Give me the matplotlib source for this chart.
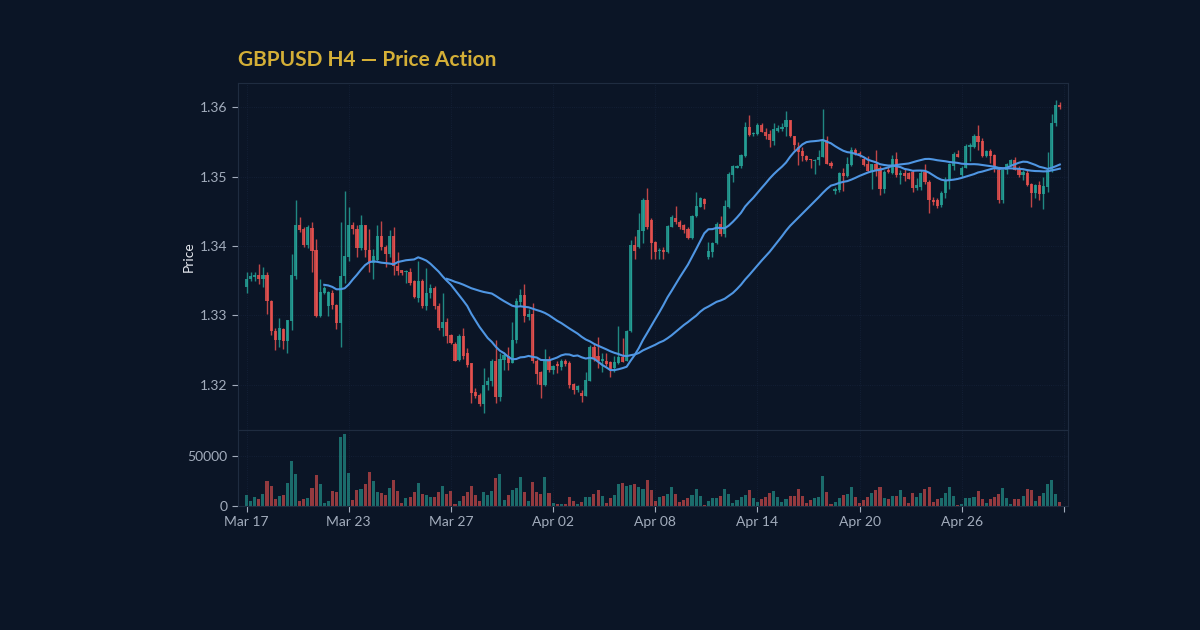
import numpy as np
import pandas as pd
import matplotlib
matplotlib.use("Agg")
import matplotlib.pyplot as plt
from matplotlib.ticker import FormatStrFormatter

# H4 bars
opens = [1.3341, 1.3353, 1.3355, 1.3358, 1.3353, 1.3359, 1.3321, 1.3278, 1.3264, 1.3281,
         1.3263, 1.3292, 1.3357, 1.3430, 1.3425, 1.3401, 1.3426, 1.3394, 1.3299, 1.3333,
         1.3313, 1.3333, 1.3315, 1.3289, 1.3357, 1.3384, 1.3430, 1.3425, 1.3397, 1.3430,
         1.3395, 1.3375, 1.3380, 1.3415, 1.3399, 1.3388, 1.3415, 1.3371, 1.3365, 1.3362,
         1.3363, 1.3350, 1.3325, 1.3350, 1.3313, 1.3332, 1.3339, 1.3314, 1.3282, 1.3290,
         1.3272, 1.3259, 1.3236, 1.3270, 1.3246, 1.3231, 1.3190, 1.3186, 1.3173, 1.3200,
         1.3205, 1.3235, 1.3183, 1.3236, 1.3241, 1.3232, 1.3264, 1.3320, 1.3330, 1.3298,
         1.3302, 1.3235, 1.3218, 1.3200, 1.3237, 1.3222, 1.3230, 1.3226, 1.3235, 1.3232,
         1.3201, 1.3193, 1.3189, 1.3184, 1.3206, 1.3254, 1.3241, 1.3234, 1.3235, 1.3233,
         1.3224, 1.3232, 1.3240, 1.3235, 1.3277, 1.3401, 1.3399, 1.3422, 1.3466, 1.3437,
         1.3406, 1.3393, 1.3395, 1.3392, 1.3428, 1.3441, 1.3435, 1.3430, 1.3425, 1.3411,
         1.3443, 1.3457, 1.3468, 1.3384, 1.3392, 1.3404, 1.3432, 1.3417, 1.3457, 1.3502,
         1.3513, 1.3515, 1.3530, 1.3572, 1.3561, 1.3561, 1.3574, 1.3565, 1.3561, 1.3552,
         1.3566, 1.3568, 1.3571, 1.3581, 1.3558, 1.3543, 1.3537, 1.3530, 1.3525, 1.3522,
         1.3524, 1.3529, 1.3553, 1.3520, 1.3479, 1.3481, 1.3505, 1.3501, 1.3517, 1.3539,
         1.3534, 1.3526, 1.3519, 1.3508, 1.3518, 1.3513, 1.3482, 1.3510, 1.3506, 1.3525,
         1.3502, 1.3506, 1.3505, 1.3507, 1.3483, 1.3485, 1.3507, 1.3493, 1.3467, 1.3466,
         1.3459, 1.3476, 1.3494, 1.3515, 1.3532, 1.3502, 1.3513, 1.3543, 1.3543, 1.3558,
         1.3552, 1.3530, 1.3537, 1.3531, 1.3510, 1.3466, 1.3510, 1.3517, 1.3524, 1.3513,
         1.3502, 1.3506, 1.3489, 1.3476, 1.3488, 1.3475, 1.3485, 1.3508, 1.3577, 1.3603]
highs = [1.3363, 1.3362, 1.3363, 1.3374, 1.3370, 1.3362, 1.3322, 1.3282, 1.3296, 1.3282,
         1.3294, 1.3389, 1.3467, 1.3442, 1.3427, 1.3430, 1.3435, 1.3410, 1.3352, 1.3342,
         1.3336, 1.3337, 1.3317, 1.3435, 1.3479, 1.3457, 1.3435, 1.3430, 1.3445, 1.3431,
         1.3425, 1.3396, 1.3430, 1.3436, 1.3401, 1.3423, 1.3428, 1.3392, 1.3366, 1.3366,
         1.3368, 1.3351, 1.3378, 1.3352, 1.3368, 1.3346, 1.3342, 1.3318, 1.3332, 1.3296,
         1.3274, 1.3262, 1.3273, 1.3282, 1.3253, 1.3232, 1.3195, 1.3188, 1.3224, 1.3212,
         1.3237, 1.3265, 1.3246, 1.3248, 1.3255, 1.3291, 1.3325, 1.3338, 1.3346, 1.3309,
         1.3318, 1.3237, 1.3220, 1.3251, 1.3241, 1.3229, 1.3234, 1.3237, 1.3237, 1.3234,
         1.3203, 1.3200, 1.3192, 1.3218, 1.3258, 1.3259, 1.3269, 1.3246, 1.3246, 1.3234,
         1.3242, 1.3285, 1.3267, 1.3279, 1.3409, 1.3414, 1.3447, 1.3469, 1.3483, 1.3440,
         1.3407, 1.3397, 1.3399, 1.3431, 1.3445, 1.3458, 1.3437, 1.3432, 1.3427, 1.3445,
         1.3478, 1.3471, 1.3470, 1.3406, 1.3406, 1.3434, 1.3443, 1.3466, 1.3507, 1.3517,
         1.3517, 1.3533, 1.3579, 1.3589, 1.3564, 1.3577, 1.3577, 1.3570, 1.3567, 1.3577,
         1.3575, 1.3577, 1.3594, 1.3582, 1.3559, 1.3550, 1.3543, 1.3531, 1.3526, 1.3526,
         1.3539, 1.3598, 1.3558, 1.3523, 1.3485, 1.3507, 1.3512, 1.3528, 1.3543, 1.3542,
         1.3537, 1.3528, 1.3530, 1.3519, 1.3539, 1.3515, 1.3509, 1.3515, 1.3531, 1.3536,
         1.3510, 1.3512, 1.3507, 1.3509, 1.3498, 1.3510, 1.3518, 1.3495, 1.3471, 1.3470,
         1.3480, 1.3499, 1.3520, 1.3536, 1.3538, 1.3516, 1.3547, 1.3548, 1.3562, 1.3575,
         1.3556, 1.3538, 1.3540, 1.3532, 1.3513, 1.3511, 1.3520, 1.3525, 1.3528, 1.3515,
         1.3510, 1.3509, 1.3491, 1.3490, 1.3494, 1.3499, 1.3536, 1.3591, 1.3611, 1.3608]
lows = [1.3332, 1.3349, 1.3349, 1.3346, 1.3341, 1.3302, 1.3272, 1.3250, 1.3255, 1.3251,
        1.3246, 1.3279, 1.3353, 1.3421, 1.3399, 1.3397, 1.3362, 1.3298, 1.3298, 1.3331,
        1.3299, 1.3309, 1.3280, 1.3255, 1.3347, 1.3378, 1.3418, 1.3385, 1.3394, 1.3385,
        1.3363, 1.3352, 1.3378, 1.3394, 1.3370, 1.3385, 1.3358, 1.3358, 1.3358, 1.3347,
        1.3344, 1.3325, 1.3320, 1.3311, 1.3308, 1.3325, 1.3310, 1.3279, 1.3270, 1.3260,
        1.3259, 1.3234, 1.3234, 1.3238, 1.3226, 1.3174, 1.3181, 1.3170, 1.3159, 1.3193,
        1.3198, 1.3174, 1.3177, 1.3222, 1.3221, 1.3231, 1.3261, 1.3313, 1.3291, 1.3293,
        1.3232, 1.3201, 1.3181, 1.3199, 1.3219, 1.3216, 1.3217, 1.3222, 1.3227, 1.3195,
        1.3187, 1.3190, 1.3176, 1.3184, 1.3205, 1.3234, 1.3224, 1.3218, 1.3227, 1.3211,
        1.3219, 1.3230, 1.3233, 1.3234, 1.3276, 1.3382, 1.3397, 1.3404, 1.3424, 1.3381,
        1.3381, 1.3382, 1.3381, 1.3390, 1.3427, 1.3432, 1.3424, 1.3419, 1.3410, 1.3410,
        1.3442, 1.3456, 1.3454, 1.3381, 1.3385, 1.3403, 1.3414, 1.3413, 1.3455, 1.3493,
        1.3512, 1.3513, 1.3529, 1.3558, 1.3558, 1.3560, 1.3564, 1.3555, 1.3543, 1.3545,
        1.3564, 1.3566, 1.3558, 1.3557, 1.3539, 1.3517, 1.3523, 1.3522, 1.3513, 1.3504,
        1.3517, 1.3528, 1.3518, 1.3512, 1.3475, 1.3478, 1.3479, 1.3499, 1.3516, 1.3531,
        1.3529, 1.3516, 1.3507, 1.3482, 1.3501, 1.3473, 1.3476, 1.3505, 1.3504, 1.3499,
        1.3490, 1.3494, 1.3496, 1.3478, 1.3481, 1.3481, 1.3490, 1.3447, 1.3459, 1.3455,
        1.3456, 1.3470, 1.3482, 1.3509, 1.3528, 1.3499, 1.3512, 1.3522, 1.3541, 1.3539,
        1.3529, 1.3529, 1.3520, 1.3507, 1.3462, 1.3462, 1.3504, 1.3516, 1.3509, 1.3499,
        1.3495, 1.3486, 1.3456, 1.3470, 1.3466, 1.3453, 1.3478, 1.3507, 1.3573, 1.3598]
closes = [1.3353, 1.3357, 1.3358, 1.3353, 1.3359, 1.3321, 1.3277, 1.3264, 1.3282, 1.3263,
          1.3293, 1.3358, 1.3430, 1.3423, 1.3401, 1.3427, 1.3393, 1.3299, 1.3334, 1.3339,
          1.3334, 1.3315, 1.3289, 1.3357, 1.3385, 1.3430, 1.3424, 1.3397, 1.3430, 1.3394,
          1.3375, 1.3385, 1.3415, 1.3399, 1.3388, 1.3415, 1.3371, 1.3364, 1.3361, 1.3364,
          1.3347, 1.3326, 1.3350, 1.3313, 1.3333, 1.3339, 1.3313, 1.3282, 1.3290, 1.3270,
          1.3261, 1.3235, 1.3270, 1.3241, 1.3229, 1.3189, 1.3184, 1.3173, 1.3200, 1.3206,
          1.3235, 1.3183, 1.3237, 1.3243, 1.3232, 1.3265, 1.3321, 1.3330, 1.3299, 1.3302,
          1.3234, 1.3216, 1.3200, 1.3237, 1.3222, 1.3227, 1.3227, 1.3235, 1.3230, 1.3200,
          1.3193, 1.3198, 1.3184, 1.3207, 1.3255, 1.3238, 1.3235, 1.3237, 1.3230, 1.3222,
          1.3233, 1.3240, 1.3233, 1.3277, 1.3401, 1.3393, 1.3423, 1.3466, 1.3427, 1.3405,
          1.3392, 1.3395, 1.3392, 1.3429, 1.3442, 1.3434, 1.3428, 1.3423, 1.3411, 1.3443,
          1.3458, 1.3469, 1.3461, 1.3393, 1.3405, 1.3432, 1.3417, 1.3458, 1.3504, 1.3515,
          1.3516, 1.3531, 1.3572, 1.3560, 1.3563, 1.3575, 1.3565, 1.3558, 1.3553, 1.3568,
          1.3570, 1.3572, 1.3581, 1.3558, 1.3545, 1.3536, 1.3530, 1.3524, 1.3524, 1.3524,
          1.3529, 1.3553, 1.3519, 1.3515, 1.3482, 1.3505, 1.3501, 1.3518, 1.3538, 1.3533,
          1.3532, 1.3517, 1.3508, 1.3518, 1.3509, 1.3482, 1.3507, 1.3507, 1.3525, 1.3502,
          1.3505, 1.3501, 1.3497, 1.3483, 1.3488, 1.3506, 1.3493, 1.3466, 1.3464, 1.3458,
          1.3477, 1.3495, 1.3518, 1.3532, 1.3529, 1.3513, 1.3544, 1.3545, 1.3558, 1.3550,
          1.3530, 1.3537, 1.3530, 1.3515, 1.3466, 1.3510, 1.3518, 1.3524, 1.3510, 1.3502,
          1.3507, 1.3488, 1.3476, 1.3488, 1.3475, 1.3486, 1.3509, 1.3577, 1.3603, 1.3600]
volumes = [11000, 5000, 9000, 7000, 12000, 25000, 20000, 7000, 10000, 11000,
           23000, 45000, 32000, 5000, 7000, 8000, 18000, 31000, 22000, 3000,
           5000, 15000, 14000, 69000, 72000, 33000, 6000, 16000, 17000, 22000,
           34000, 25000, 14000, 13000, 11000, 18000, 26000, 15000, 3000, 8000,
           9000, 14000, 23000, 12000, 11000, 9000, 9000, 14000, 20000, 12000,
           15000, 2000, 5000, 10000, 14000, 20000, 11000, 5000, 14000, 11000,
           15000, 28000, 32000, 6000, 11000, 16000, 18000, 29000, 14000, 5000,
           24000, 14000, 12000, 29000, 13000, 3000, 2000, 2000, 2000, 9000,
           5000, 2000, 4000, 9000, 9000, 12000, 16000, 10000, 3000, 8000,
           11000, 22000, 23000, 20000, 21000, 22000, 19000, 17000, 26000, 16000,
           5000, 9000, 10000, 12000, 19000, 12000, 4000, 6000, 8000, 11000,
           17000, 10000, 1000, 5000, 8000, 8000, 10000, 17000, 12000, 3000,
           6000, 9000, 11000, 16000, 8000, 4000, 7000, 9000, 13000, 15000,
           9000, 4000, 7000, 10000, 10000, 17000, 10000, 3000, 6000, 8000,
           9000, 30000, 14000, 2000, 4000, 8000, 11000, 12000, 19000, 9000,
           3000, 6000, 9000, 13000, 16000, 19000, 8000, 7000, 10000, 10000,
           16000, 9000, 3000, 13000, 9000, 13000, 17000, 19000, 4000, 7000,
           8000, 13000, 19000, 10000, 1000, 2000, 8000, 8000, 9000, 15000,
           7000, 3000, 7000, 9000, 12000, 18000, 8000, 2000, 7000, 7000,
           10000, 17000, 16000, 5000, 10000, 13000, 22000, 26000, 12000, 4000]
date_labels = ["Mar 17", "Mar 23", "Mar 27", "Apr 02", "Apr 08",
               "Apr 14", "Apr 20", "Apr 26", ""]

bg = "#0b1526"
up_col = "#26a69a"
down_col = "#ef5350"
ma_col = "#4f96e3"
grid_col = "#16233a"
spine_col = "#1f2c40"
text_col = "#a3adbd"

df = pd.DataFrame({"open": opens, "high": highs, "low": lows,
                   "close": closes, "volume": volumes})
x = np.arange(len(df))
up = df["close"] >= df["open"]
colors = np.where(up, up_col, down_col)
ma_fast = df["close"].rolling(20).mean()
ma_slow = df["close"].rolling(50).mean()

plt.rcParams["font.family"] = ["Lato", "DejaVu Sans"]
fig = plt.figure(figsize=(12, 6.3), dpi=100, facecolor=bg)
ax = fig.add_axes([238 / 1200, 200 / 630, 830 / 1200, 347 / 630], facecolor=bg)
axv = fig.add_axes([238 / 1200, 124 / 630, 830 / 1200, 76 / 630], facecolor=bg, sharex=ax)

# candles: wicks then bodies
ax.vlines(x, df["low"], df["high"], colors=colors, linewidth=1, alpha=0.8, zorder=2)
body_low = np.minimum(df["open"], df["close"])
body_h = np.maximum(np.abs(df["close"] - df["open"]), 0.00005)
ax.bar(x, body_h, bottom=body_low, width=0.78, color=colors, alpha=0.8,
       linewidth=0, zorder=3)
ax.plot(x, ma_fast, color=ma_col, linewidth=1.5, zorder=4)
ax.plot(x, ma_slow, color=ma_col, linewidth=1.5, zorder=4)

axv.bar(x, df["volume"], width=0.75, color=colors, alpha=0.6, linewidth=0)

ax.set_ylim(1.3135, 1.3635)
ax.set_yticks([1.32, 1.33, 1.34, 1.35, 1.36])
ax.yaxis.set_major_formatter(FormatStrFormatter("%.2f"))
ax.set_xlim(-2.1, 201)
ax.set_ylabel("Price", color="#e6e9ef", fontsize=10, labelpad=4)
ax.tick_params(axis="x", which="both", bottom=False, labelbottom=False)

axv.set_ylim(0, 76000)
axv.set_yticks([0, 50000])
axv.set_xticks(np.arange(0, 201, 25))
axv.set_xticklabels(date_labels)

for a in (ax, axv):
    a.grid(True, color=grid_col, linewidth=0.6, linestyle=":")
    a.set_axisbelow(True)
    for s in a.spines.values():
        s.set_color(spine_col)
        s.set_linewidth(0.8)
    a.tick_params(colors=text_col, labelsize=10, length=4, width=0.8)

fig.text(238 / 1200, 1 - 60 / 630, "GBPUSD H4 \u2014 Price Action", color="#d4af37",
         fontsize=15, fontweight="bold", va="center", ha="left")

fig.savefig("out.png", dpi=100, facecolor=bg)
